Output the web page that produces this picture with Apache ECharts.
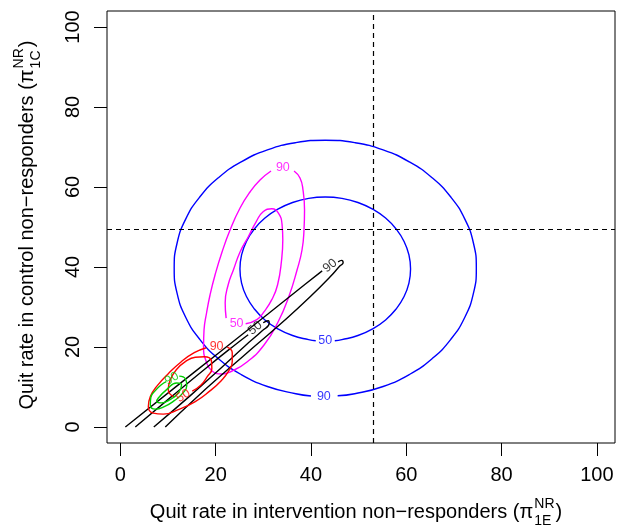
<!DOCTYPE html>
<html><head><meta charset="utf-8">
<script src="https://cdn.jsdelivr.net/npm/echarts@6/dist/echarts.min.js"></script>
<style>html,body{margin:0;padding:0;background:#fff}#c{width:617px;height:528px}</style>
</head><body><div id="c"></div>
<script>
// ---- data ----
const xTicks = [0, 20, 40, 60, 80, 100];
const yTicks = [0, 20, 40, 60, 80, 100];
const refX = 53;
const refY = 49.5;

const blue90 = [[45.6,7.8],[49.18,8.31],[55.14,10.13],[60.63,13.11],[65.41,17.08],[69.34,21.91],[72.29,27.44],[74.1,33.46],[74.7,39.7],[74.1,45.94],[72.29,51.96],[69.34,57.49],[65.41,62.32],[60.63,66.29],[55.14,69.27],[49.18,71.09],[43,71.7],[36.82,71.09],[30.86,69.27],[25.37,66.29],[20.59,62.32],[16.66,57.49],[13.71,51.96],[11.9,45.94],[11.3,39.7],[11.9,33.46],[13.71,27.44],[16.66,21.91],[20.59,17.08],[25.37,13.11],[30.86,10.13],[36.82,8.31],[40.0,7.75]];
const blue50 = [[45.0,21.55],[46.49,21.84],[49.86,22.87],[52.95,24.54],[55.66,26.77],[57.87,29.49],[59.54,32.61],[60.56,35.99],[60.9,39.5],[60.56,43.01],[59.54,46.39],[57.87,49.51],[55.66,52.23],[52.95,54.46],[49.86,56.13],[46.49,57.16],[43,57.5],[39.51,57.16],[36.14,56.13],[33.05,54.46],[30.34,52.23],[28.13,49.51],[26.46,46.39],[25.44,43.01],[25.1,39.5],[25.44,35.99],[26.46,32.61],[28.13,29.49],[30.34,26.77],[33.05,24.54],[36.14,22.87],[39.51,21.84],[41.0,21.55]];
const magenta90 = [[36.45,64.0],[37.7,62.25],[38.33,59.25],[38.65,54.25],[38.54,49.25],[38.12,44.25],[37.08,39.25],[35.4,32.75],[33.09,26.25],[30.15,20.5],[26.58,16.25],[23.44,14.0],[21.34,13.25],[19.24,14.0],[17.98,16.5],[17.46,20.0],[17.56,24.25],[18.09,28.5],[18.82,33.0],[19.87,38.0],[21.34,43.75],[23.02,49.25],[25.12,54.75],[27.21,58.75],[29.31,61.75],[31.62,64.0]];
const magenta50 = [[26.3,25.8],[28.64,26.84],[30.17,28.83],[31.78,31.83],[33.0,35.57],[33.84,41.81],[34.09,46.8],[33.94,50.55],[33.17,53.47],[31.78,54.55],[29.96,53.8],[28.49,51.3],[26.88,47.63],[25.14,43.81],[23.74,39.32],[22.63,35.57],[22.0,31.08],[22.2,27.2]];
const black90a = [[1.05,0],[10.9,9.34],[20.96,18.82],[31.03,28.3],[38.78,35.67],[42.35,39.04]];
const black90b = [[45.7,41.3],[46.44,41.66],[46.75,41.04],[46.1,40.3],[44.03,37.54],[39.83,32.55],[34.6,26.8],[28.3,20.3],[22.0,13.8],[15.7,7.09],[9.43,0]];
const black50a = [[3.14,0],[10.48,7.34],[17.82,14.58],[24.1,20.57],[26.83,23.07]];
const black50b = [[29.98,26.06],[31.03,26.56],[31.24,25.94],[29.77,24.06],[26.2,20.32],[20.96,14.58],[14.68,7.84],[7.02,0]];
const red90 = [[22.43,19.95],[23.48,18.57],[23.48,16.33],[22.64,13.83],[21.17,11.58],[18.87,9.09],[15.72,6.34],[12.16,4.34],[9.01,3.22],[6.92,3.47],[5.87,5.09],[6.29,7.59],[7.76,10.33],[10.06,13.33],[12.79,16.33],[15.51,18.57],[18.03,19.82]];
const red50 = [[15.09,8.96],[16.98,10.58],[18.24,12.58],[19.2,14.58],[19.1,16.58],[17.61,17.57],[15.72,17.45],[13.63,16.33],[11.74,14.33],[10.48,11.83],[10.06,9.34],[11.32,7.46]];
const green90 = [[12.37,12.71],[13.63,12.08],[13.94,10.33],[13.0,8.34],[11.32,6.59],[9.22,5.09],[7.34,4.47],[6.29,5.59],[6.39,7.34],[7.34,9.09],[8.6,10.58],[9.64,11.33]];
const green50 = [[7.97,7.26],[9.71,9.34],[11.8,11.01],[12.85,10.58],[12.16,8.51],[10.42,6.84],[8.66,6.02],[7.61,6.42],[7.97,7.26]];

// contour labels: [x, y, text]
const blueLabels = [[42.7,7.7,'90'],[43,21.5,'50']];
const magentaLabels = [[34.1,64.9,'90'],[24.4,25.9,'50']];
const blackLabels = [[44.0,40.3,'90'],[28.3,24.7,'50']];
const redLabels = [[20.2,20.2,'90'],[13.2,7.8,'50']];
const greenLabels = [[10.8,12.1,'90']];
const blackLabelAngles = [39, 40];
const redLabelAngles = [0, 33];
const greenLabelAngles = [32];

// ---- styling ----
const FONT = '"Liberation Sans", Arial, Helvetica, sans-serif';
const LW = 1.4;
const C = {blue:'#0000FF', magenta:'#FF00FF', black:'#000000', red:'#FF0000', green:'#00CD00'};

function lineSeries(data, color, extra) {
  return Object.assign({
    type: 'line', data: data, smooth: 0.5, showSymbol: false, symbol: 'none',
    lineStyle: {color: color, width: LW}, silent: true, z: 3
  }, extra || {});
}
function labelSeries(items, color, angles) {
  return {
    type: 'scatter', symbolSize: 0, silent: true, z: 5,
    data: items.map((d, i) => ({
      value: [d[0], d[1]],
      label: {show: true, position: 'inside', formatter: d[2], color: color,
              fontSize: 12.5, fontFamily: FONT, rotate: angles ? angles[i] : 0}
    }))
  };
}

const chart = echarts.init(document.getElementById('c'), null, {renderer: 'canvas'});

// axis titles with stacked super/subscripts
const mc = document.createElement('canvas').getContext('2d');
function tw(t, size) { mc.font = size + 'px ' + FONT; return mc.measureText(t).width; }
function titleParts(main, sup, sub) {
  const wMain = tw(main, 20), wS = Math.max(tw(sup, 14), tw(sub, 14)), wC = tw(')', 20);
  const total = wMain + 1 + wS + 1 + wC;
  const x0 = -total / 2;
  const st = (t, size, x, y) => ({type: 'text', x: x, y: y, silent: true,
    style: {text: t, font: size + 'px ' + FONT, fill: '#000', textAlign: 'left', textVerticalAlign: 'middle', align: 'left', verticalAlign: 'middle'}});
  return [
    st(main, 20, x0, 0),
    st(sup, 14, x0 + wMain + 1, -8),
    st(sub, 14, x0 + wMain + 1, 9),
    st(')', 20, x0 + wMain + 1 + wS + 1, 0)
  ];
}

const option = {
  animation: false,
  backgroundColor: '#fff',
  grid: {left: 107, right: 2, top: 11, bottom: 85, show: true, borderColor: '#000', borderWidth: 1, backgroundColor: 'transparent'},
  xAxis: {
    type: 'value', min: -2.8, max: 103.8,
    axisLine: {show: false, onZero: false},
    splitLine: {show: false},
    axisTick: {show: true, length: 13, customValues: xTicks, lineStyle: {color: '#000', width: 1}},
    axisLabel: {customValues: xTicks, fontSize: 20, fontFamily: FONT, color: '#000', margin: 22}
  },
  yAxis: {
    type: 'value', min: -4, max: 104,
    axisLine: {show: false, onZero: false},
    splitLine: {show: false},
    axisTick: {show: true, length: 13, customValues: yTicks, lineStyle: {color: '#000', width: 1}},
    axisLabel: {customValues: yTicks, fontSize: 20, fontFamily: FONT, color: '#000', margin: 24, rotate: 90}
  },
  graphic: [
    {type: 'group', x: 356, y: 512, children: titleParts('Quit rate in intervention non\u2212responders (\u03c0', 'NR', '1E')},
    {type: 'group', x: 27, y: 225, rotation: Math.PI / 2, children: titleParts('Quit rate in control non\u2212responders (\u03c0', 'NR', '1C')}
  ],
  series: [
    lineSeries(blue90, C.blue, {
      markLine: {silent: true, symbol: ['none', 'none'], label: {show: false},
        lineStyle: {color: '#000', width: 1.2, type: [5, 4]},
        data: [{xAxis: refX}, {yAxis: refY}]}
    }),
    lineSeries(blue50, C.blue),
    lineSeries(magenta90, C.magenta),
    lineSeries(magenta50, C.magenta),
    lineSeries(black90a, C.black),
    lineSeries(black90b, C.black),
    lineSeries(black50a, C.black),
    lineSeries(black50b, C.black),
    lineSeries(red90, C.red),
    lineSeries(red50, C.red),
    lineSeries(green90, C.green),
    lineSeries(green50, C.green),
    labelSeries(blueLabels, C.blue),
    labelSeries(magentaLabels, C.magenta),
    labelSeries(blackLabels, C.black, blackLabelAngles),
    labelSeries(redLabels, C.red, redLabelAngles),
    labelSeries(greenLabels, C.green, greenLabelAngles)
  ]
};
chart.setOption(option);
</script></body></html>
